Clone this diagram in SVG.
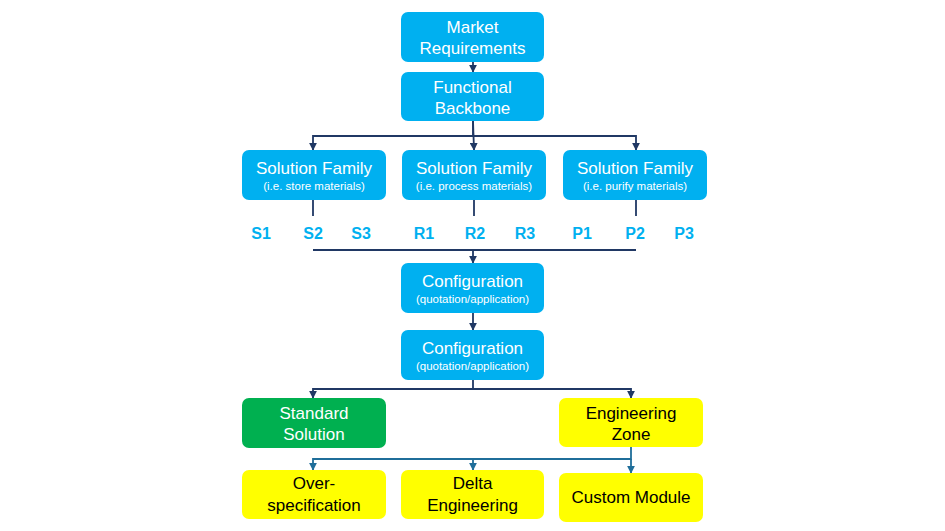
<svg xmlns="http://www.w3.org/2000/svg" width="945" height="531" viewBox="0 0 945 531">
<defs>
<style>
.b{fill:#00B0F0}
.g{fill:#00B050}
.y{fill:#FFFF00}
.t{font-family:"Liberation Sans",Arial,sans-serif;font-size:17px;fill:#fff;text-anchor:middle}
.s{font-family:"Liberation Sans",Arial,sans-serif;font-size:11.5px;fill:#fff;text-anchor:middle}
.k{fill:#000}
.l{font-family:"Liberation Sans",Arial,sans-serif;font-size:16px;font-weight:bold;fill:#00B0F0;text-anchor:middle}
.c1{stroke:#203864;stroke-width:1.8;fill:none}
.c2{stroke:#1F6E9A;stroke-width:1.8;fill:none}
</style>
<marker id="a1" viewBox="0 0 10 10" refX="9" refY="5" markerWidth="4.5" markerHeight="4.5" orient="auto"><path d="M0,0L10,5L0,10z" fill="#203864"/></marker>
<marker id="a2" viewBox="0 0 10 10" refX="9" refY="5" markerWidth="4.5" markerHeight="4.5" orient="auto"><path d="M0,0L10,5L0,10z" fill="#1F6E9A"/></marker>
</defs>
<rect width="945" height="531" fill="#fff"/>
<g id="connectors">
<path class="c1" d="M473,62V72" marker-end="url(#a1)"/>
<path class="c1" d="M473,121V136H313V150" marker-end="url(#a1)"/>
<path class="c1" d="M473,136H636V150" marker-end="url(#a1)"/>
<path class="c1" d="M473,121L474,150" marker-end="url(#a1)"/>
<path class="c1" d="M313,200V216M474,200V216M636,200V216"/>
<path class="c1" d="M313,250H636"/>
<path class="c1" d="M473,250V263" marker-end="url(#a1)"/>
<path class="c1" d="M473,313V330" marker-end="url(#a1)"/>
<path class="c1" d="M473,380V389H313V398" marker-end="url(#a1)"/>
<path class="c1" d="M473,389H631V398" marker-end="url(#a1)"/>
<path class="c2" d="M631,447V459H313V470" marker-end="url(#a2)"/>
<path class="c2" d="M473,459V470" marker-end="url(#a2)"/>
<path class="c2" d="M631,459V473" marker-end="url(#a2)"/>
</g>
<g id="market"><rect class="b" x="401" y="12" width="143" height="50" rx="7"/><text class="t" x="472.5" y="33">Market</text><text class="t" x="472.5" y="54">Requirements</text></g>
<g id="backbone"><rect class="b" x="401" y="72" width="143" height="49" rx="7"/><text class="t" x="472.5" y="92.5">Functional</text><text class="t" x="472.5" y="113.5">Backbone</text></g>
<g id="sf1"><rect class="b" x="242" y="150" width="144" height="50" rx="7"/><text class="t" x="314" y="174">Solution Family</text><text class="s" x="314" y="190">(i.e. store materials)</text></g>
<g id="sf2"><rect class="b" x="402" y="150" width="144" height="50" rx="7"/><text class="t" x="474" y="174">Solution Family</text><text class="s" x="474" y="190">(i.e. process materials)</text></g>
<g id="sf3"><rect class="b" x="563" y="150" width="144" height="50" rx="7"/><text class="t" x="635" y="174">Solution Family</text><text class="s" x="635" y="190">(i.e. purify materials)</text></g>
<g id="labels">
<text class="l" x="261" y="239">S1</text><text class="l" x="313" y="239">S2</text><text class="l" x="361" y="239">S3</text>
<text class="l" x="424" y="239">R1</text><text class="l" x="475" y="239">R2</text><text class="l" x="525" y="239">R3</text>
<text class="l" x="582" y="239">P1</text><text class="l" x="635" y="239">P2</text><text class="l" x="684" y="239">P3</text>
</g>
<g id="config1"><rect class="b" x="401" y="263" width="143" height="50" rx="7"/><text class="t" x="472.5" y="287">Configuration</text><text class="s" x="472.5" y="303">(quotation/application)</text></g>
<g id="config2"><rect class="b" x="401" y="330" width="143" height="50" rx="7"/><text class="t" x="472.5" y="354">Configuration</text><text class="s" x="472.5" y="370">(quotation/application)</text></g>
<g id="standard"><rect class="g" x="242" y="398" width="144" height="50" rx="7"/><text class="t" x="314" y="418.5">Standard</text><text class="t" x="314" y="439.5">Solution</text></g>
<g id="engzone"><rect class="y" x="559" y="398" width="144" height="49" rx="7"/><text class="t k" x="631" y="418.5">Engineering</text><text class="t k" x="631" y="439.5">Zone</text></g>
<g id="overspec"><rect class="y" x="242" y="470" width="144" height="49" rx="7"/><text class="t k" x="314" y="489">Over-</text><text class="t k" x="314" y="510.5">specification</text></g>
<g id="delta"><rect class="y" x="401" y="470" width="143" height="49" rx="7"/><text class="t k" x="472.5" y="489">Delta</text><text class="t k" x="472.5" y="510.5">Engineering</text></g>
<g id="custom"><rect class="y" x="559" y="473" width="144" height="49" rx="7"/><text class="t k" x="631" y="503">Custom Module</text></g>
</svg>
